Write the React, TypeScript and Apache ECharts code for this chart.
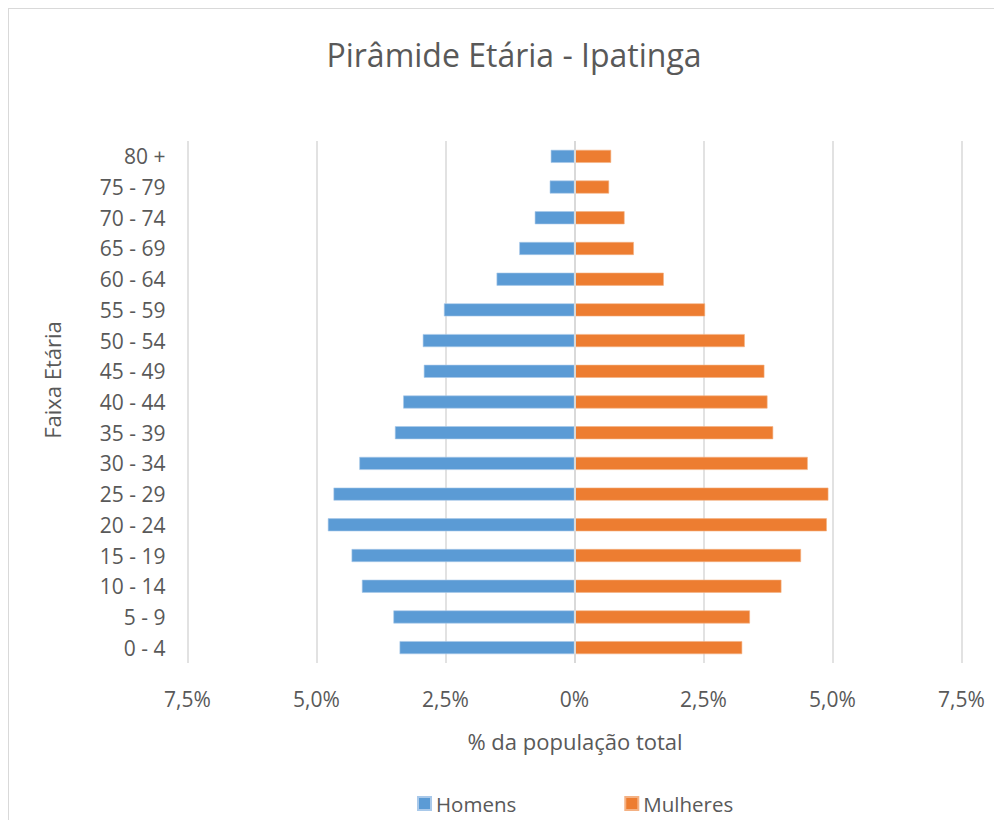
import React, { useEffect, useRef } from 'react';
import * as echarts from 'echarts';

const categories = ['0 - 4', '5 - 9', '10 - 14', '15 - 19', '20 - 24', '25 - 29', '30 - 34', '35 - 39', '40 - 44', '45 - 49', '50 - 54', '55 - 59', '60 - 64', '65 - 69', '70 - 74', '75 - 79', '80 +'];
const homens = [3.39, 3.51, 4.12, 4.32, 4.78, 4.67, 4.17, 3.48, 3.32, 2.92, 2.94, 2.53, 1.51, 1.07, 0.77, 0.48, 0.46];
const mulheres = [3.25, 3.40, 4.01, 4.39, 4.89, 4.92, 4.52, 3.85, 3.74, 3.68, 3.30, 2.53, 1.73, 1.15, 0.97, 0.67, 0.71];
const xMin = -7.5;
const xMax = 7.5;
const xStep = 2.5;

const FONT = '"Open Sans", "Noto Sans", sans-serif';
const TEXT = '#595959';
const GRID = '#d9d9d9';

const fmt = (v: number) => (v === 0 ? '0%' : Math.abs(v).toFixed(1).replace('.', ',') + '%');

export default function App() {
  const ref = useRef<HTMLDivElement>(null);
  useEffect(() => {
    if (!ref.current) return;
    const chart = echarts.init(ref.current, null, { renderer: 'svg' });
    chart.setOption({
      animation: false,
      textStyle: { fontFamily: FONT, color: TEXT },
      title: {
        text: 'Pirâmide Etária - Ipatinga',
        left: 500,
        top: 24,
        textAlign: 'center',
        textStyle: { fontFamily: FONT, fontSize: 32, fontWeight: 'normal', color: TEXT },
      },
      legend: {
        left: 408,
        top: 784,
        padding: 0,
        itemWidth: 13,
        itemHeight: 13,
        itemGap: 108,
        icon: 'rect',
        textStyle: { fontFamily: FONT, fontSize: 20.5, color: TEXT },
        data: ['Homens', 'Mulheres'],
      },
      grid: { left: 178.5, right: 32.5, top: 132, bottom: 157, containLabel: false },
      xAxis: {
        type: 'value',
        min: xMin,
        max: xMax,
        interval: xStep,
        axisLine: { show: false },
        axisTick: { show: false },
        splitLine: { lineStyle: { color: GRID, width: 1.5 } },
        axisLabel: { formatter: fmt, fontFamily: FONT, fontSize: 21, color: TEXT, margin: 25 },
      },
      yAxis: {
        type: 'category',
        data: categories,
        axisLine: { show: false, onZero: false },
        axisTick: { show: false },
        axisLabel: { fontFamily: FONT, fontSize: 21, color: TEXT, margin: 22 },
      },
      graphic: [
        {
          type: 'text',
          x: 566,
          y: 732,
          style: { text: '% da população total', fill: TEXT, font: `22px ${FONT}`, align: 'center', verticalAlign: 'middle' },
        },
        {
          type: 'text',
          x: 43,
          y: 371,
          rotation: Math.PI / 2,
          style: { text: 'Faixa Etária', fill: TEXT, font: `22px ${FONT}`, align: 'center', verticalAlign: 'middle' },
        },
      ],
      series: [
        {
          name: 'Homens',
          type: 'bar',
          stack: 'pop',
          barWidth: 13,
          data: homens.map((v) => -v),
          itemStyle: { color: '#5B9BD5', borderColor: '#A9C9EA', borderWidth: 0.6 },
          markLine: {
            silent: true,
            symbol: 'none',
            label: { show: false },
            lineStyle: { color: GRID, width: 2, type: 'solid' },
            data: [{ xAxis: 0 }],
          },
        },
        {
          name: 'Mulheres',
          type: 'bar',
          stack: 'pop',
          barWidth: 13,
          data: mulheres,
          itemStyle: { color: '#ED7D31', borderColor: '#F4B183', borderWidth: 0.6 },
        },
      ],
    });
    return () => chart.dispose();
  }, []);
  return (
    <div style={{ width: 986, height: 812, borderTop: `1px solid ${GRID}`, borderLeft: `1px solid ${GRID}`, boxSizing: 'border-box' }}>
      <div ref={ref} style={{ width: 985, height: 811 }} />
    </div>
  );
}
